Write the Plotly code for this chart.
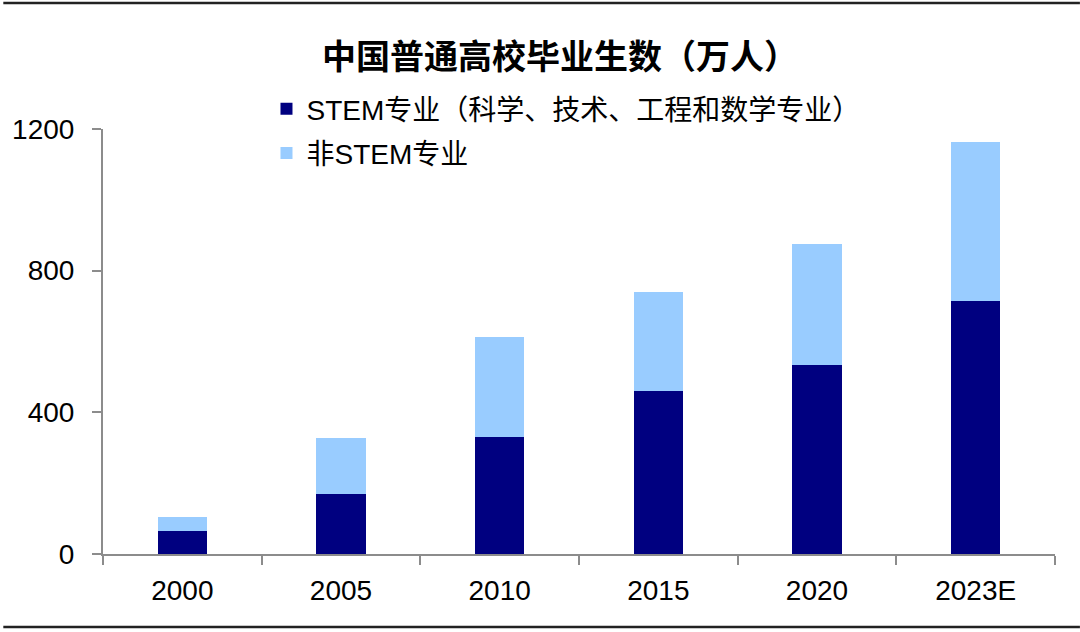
import plotly.graph_objects as go

# 中国普通高校毕业生数（万人）
years = ["2000", "2005", "2010", "2015", "2020", "2023E"]
stem = [66, 169, 329, 461, 535, 713]
non_stem = [38, 158, 285, 279, 340, 449]

y_ticks = [0, 400, 800, 1200]

FONT = "Liberation Sans, Arial, Noto Sans CJK SC, sans-serif"
AXIS_GREY = "#8c8c8c"

fig = go.Figure()

fig.add_trace(
    go.Bar(
        x=years,
        y=stem,
        name="STEM专业（科学、技术、工程和数学专业）",
        marker=dict(color="#000080", line=dict(width=0)),
        legendgroup="stem",
    )
)
fig.add_trace(
    go.Bar(
        x=years,
        y=non_stem,
        name="非STEM专业",
        marker=dict(color="#99CCFF", line=dict(width=0)),
        legendgroup="non_stem",
    )
)

fig.update_layout(
    width=1080,
    height=632,
    barmode="stack",
    bargap=0.69,
    paper_bgcolor="white",
    plot_bgcolor="white",
    font=dict(family=FONT, color="black", size=28),
    margin=dict(l=100, r=25, t=129, b=78),
    title=dict(
        text="<b>中国普通高校毕业生数（万人）</b>",
        font=dict(family="Noto Sans CJK SC, sans-serif", size=34, color="black"),
        x=560 / 1080,
        xanchor="center",
        y=1 - 57 / 632,
        yanchor="middle",
    ),
    legend=dict(
        x=(264 - 100) / 955,
        y=(554 - 84) / 425,
        xanchor="left",
        yanchor="top",
        traceorder="grouped",
        tracegroupgap=5,
        bgcolor="rgba(0,0,0,0)",
        font=dict(family=FONT, size=28, color="black"),
    ),
    xaxis=dict(
        showline=True,
        linecolor=AXIS_GREY,
        linewidth=2,
        ticks="outside",
        tickson="boundaries",
        ticklen=9,
        tickcolor=AXIS_GREY,
        tickwidth=2,
        ticklabelstandoff=10,
        showgrid=False,
        tickfont=dict(size=28),
    ),
    yaxis=dict(
        range=[0, 1200],
        tickvals=y_ticks,
        showline=True,
        linecolor=AXIS_GREY,
        linewidth=2,
        ticks="outside",
        ticklen=9,
        tickcolor=AXIS_GREY,
        tickwidth=2,
        ticklabelstandoff=12,
        showgrid=False,
        zeroline=False,
        tickfont=dict(size=28),
    ),
)

# frame lines at the top and bottom of the picture
for py in (3, 627):
    fig.add_shape(
        type="line",
        xref="paper",
        yref="paper",
        x0=-100 / 955,
        x1=(1080 - 100) / 955,
        y0=(554 - py) / 425,
        y1=(554 - py) / 425,
        line=dict(color="#222222", width=2.5),
    )

# drop the default 8px body margin so the figure sits at the window's corner
fig.write_html(
    "out.html",
    config={"displayModeBar": False},
    post_script="document.body.style.margin='0';",
)
